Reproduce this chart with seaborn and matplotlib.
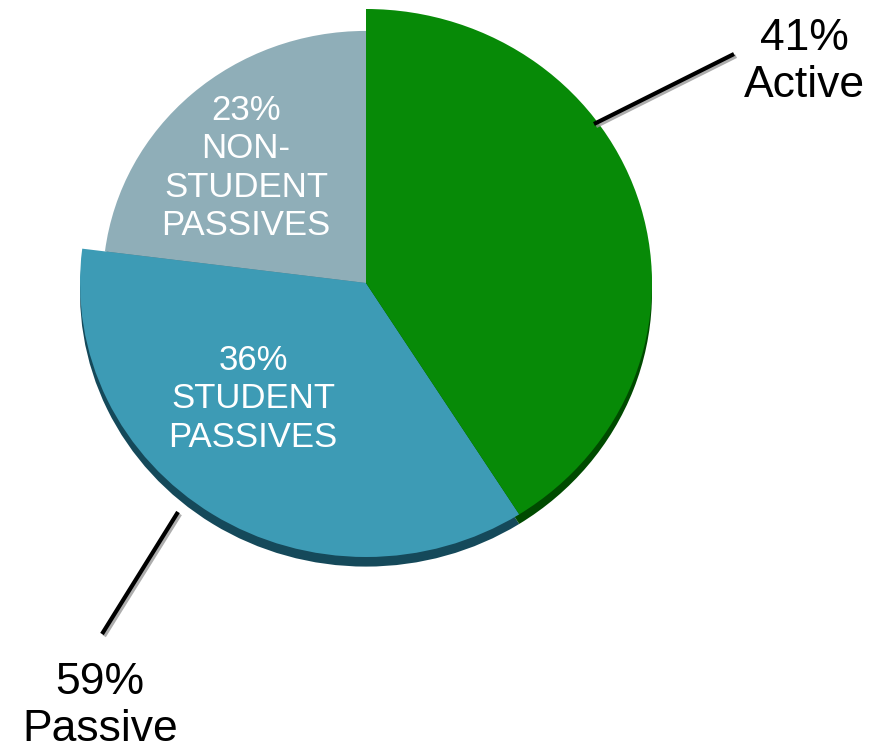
import matplotlib
matplotlib.use("Agg")
import matplotlib.pyplot as plt
import matplotlib.patheffects as pe
import seaborn as sns

# data
segments = ["NON-STUDENT PASSIVES", "STUDENT PASSIVES", "Active"]
shares = [23, 36, 41]
inner_labels = ["23%\nNON-\nSTUDENT\nPASSIVES", "36%\nSTUDENT\nPASSIVES", None]
outer_labels = ["41%\nActive", "59%\nPassive"]

colors = ["#8FAEB8", "#3D9BB5", "#078A07"]
rim_colors = ["#5E7A82", "#15495A", "#004A00"]

W, H = 886, 750
CX, CY = 366, 283          # pie centre in pixels (from top)
RX, RY = 286, 274          # horizontal / vertical radius in pixels


def px(x, y):
    # pixel position (origin top-left) -> data coords (pie radius = 1)
    return (x - CX) / RX, (CY - y) / RY


sns.set_style("white")
plt.rcParams["font.family"] = ["Liberation Sans", "DejaVu Sans"]

fig = plt.figure(figsize=(W / 100, H / 100), dpi=100)
ax = fig.add_axes([0, 0, 1, 1])

# 3D-ish rim under the pie
rim, _ = ax.pie(shares, colors=rim_colors, startangle=90, counterclock=True,
                center=(0, -0.035), radius=1.0,
                wedgeprops=dict(linewidth=0))
wedges, _ = ax.pie(shares, colors=colors, startangle=90, counterclock=True,
                   center=(0, 0), radius=1.0,
                   wedgeprops=dict(linewidth=0))
# the grey slice sits a little lower than the others
wedges[0].set_radius(0.92)
rim[0].set_radius(0.92)

ax.set_aspect("auto")
ax.set_xlim(-CX / RX, (W - CX) / RX)
ax.set_ylim(-(H - CY) / RY, CY / RY)
ax.axis("off")

# labels inside the slices
ax.text(*px(246, 168), inner_labels[0], ha="center", va="center",
        color="white", fontsize=25, linespacing=1.2)
ax.text(*px(253, 399), inner_labels[1], ha="center", va="center",
        color="white", fontsize=25, linespacing=1.2)

# outer labels with leader lines
shadow = [pe.SimpleLineShadow(offset=(1.5, -1.5), shadow_color="#999999", alpha=0.8), pe.Normal()]
x0, y0 = px(594, 124)
x1, y1 = px(734, 54)
ax.plot([x0, x1], [y0, y1], color="black", lw=3, solid_capstyle="butt", path_effects=shadow)
x0, y0 = px(178, 512)
x1, y1 = px(102, 634)
ax.plot([x0, x1], [y0, y1], color="black", lw=3, solid_capstyle="butt", path_effects=shadow)

ax.text(*px(804, 62), outer_labels[0], ha="center", va="center",
        color="black", fontsize=32, linespacing=1.2)
ax.text(*px(100, 706), outer_labels[1], ha="center", va="center",
        color="black", fontsize=32, linespacing=1.2)

fig.savefig("out.png", dpi=100)
